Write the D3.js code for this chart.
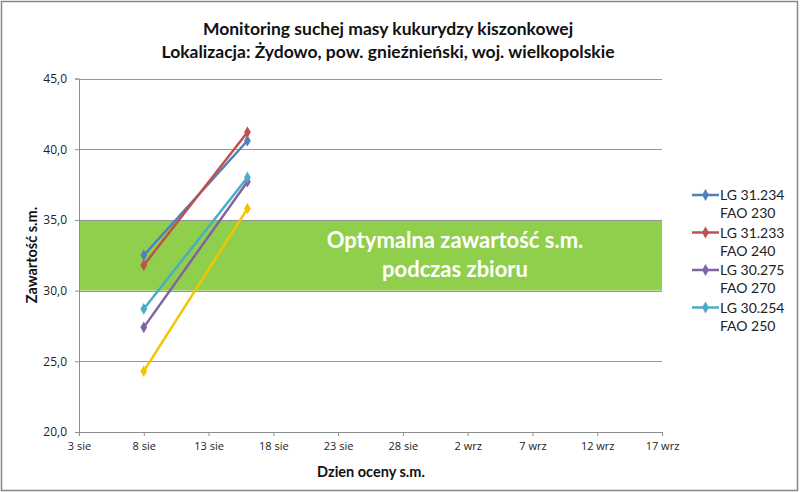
<!DOCTYPE html>
<html>
<head>
<meta charset="utf-8">
<script src="https://cdn.jsdelivr.net/npm/d3@7"></script>
<style>
  body { margin: 0; background: #fff; }
  text { font-family: Lato, "Open Sans", sans-serif; }
</style>
</head>
<body>
<script>
// data
const dates = ["2013-08-08", "2013-08-16"];
const seriesNames = [
  ["LG 31.234", "FAO 230"],
  ["LG 31.233", "FAO 240"],
  ["LG 30.275", "FAO 270"],
  ["LG 30.254", "FAO 250"],
  ["", ""]
];
const seriesColors = ["#4F81BD", "#C0504D", "#8064A2", "#4BACC6", "#F5C400"];
const lg31234 = [32.5, 40.6];
const lg31233 = [31.8, 41.2];
const lg30275 = [27.4, 37.7];
const lg30254 = [28.7, 38.0];
const yellow = [24.3, 35.8];
const allValues = [lg31234, lg31233, lg30275, lg30254, yellow];
const xTicks = ["2013-08-03", "2013-08-08", "2013-08-13", "2013-08-18", "2013-08-23",
                "2013-08-28", "2013-09-02", "2013-09-07", "2013-09-12", "2013-09-17"];
const yTicks = [20, 25, 30, 35, 40, 45];
const optimumBand = [30, 35];
const monthNames = ["sty", "lut", "mar", "kwi", "maj", "cze", "lip", "sie", "wrz", "paź", "lis", "gru"];

const parse = d3.timeParse("%Y-%m-%d");

const width = 800, height = 492;
const svg = d3.select("body").append("svg")
  .attr("width", width)
  .attr("height", height);

// outer border
svg.append("rect")
  .attr("x", 1.5).attr("y", 1.5)
  .attr("width", width - 4).attr("height", height - 3)
  .attr("fill", "#fff")
  .attr("stroke", "#868686")
  .attr("stroke-width", 1.5);

const x = d3.scaleTime()
  .domain([parse(xTicks[0]), parse(xTicks[xTicks.length - 1])])
  .range([79, 662]);
const y = d3.scaleLinear()
  .domain([20, 45])
  .range([432, 78.5]);

// green band
svg.append("rect")
  .attr("x", x.range()[0])
  .attr("y", y(optimumBand[1]))
  .attr("width", x.range()[1] - x.range()[0])
  .attr("height", y(optimumBand[0]) - y(optimumBand[1]))
  .attr("fill", "#8FCF4C");

// gridlines
svg.append("g")
  .selectAll("line")
  .data(yTicks.slice(1))
  .join("line")
  .attr("x1", x.range()[0])
  .attr("x2", x.range()[1])
  .attr("y1", d => Math.round(y(d)) + 0.5)
  .attr("y2", d => Math.round(y(d)) + 0.5)
  .attr("stroke", "#959595")
  .attr("stroke-width", 1);

// band label
const band = svg.append("text")
  .attr("fill", "#fff")
  .attr("text-anchor", "middle")
  .style("font-size", "22px")
  .style("font-weight", "bold");
band.append("tspan").attr("x", 455).attr("y", 248).text("Optymalna zawartość s.m.");
band.append("tspan").attr("x", 455).attr("y", 277).text("podczas zbioru");

// y axis
const yAxis = svg.append("g")
  .attr("transform", "translate(79,0)")
  .call(d3.axisLeft(y).tickValues(yTicks).tickSize(4).tickPadding(8)
    .tickFormat(d => d3.format(".1f")(d).replace(".", ",")));
yAxis.select(".domain").attr("stroke", "#8c8c8c");
yAxis.selectAll(".tick line").attr("stroke", "#8c8c8c");
yAxis.selectAll(".tick text")
  .attr("fill", "#222")
  .style("font-size", "12px")
  .style("font-family", "'Open Sans', sans-serif");

// x axis
const xAxis = svg.append("g")
  .attr("transform", "translate(0,432)")
  .call(d3.axisBottom(x).tickValues(xTicks.map(parse)).tickSize(4).tickPadding(6)
    .tickFormat(d => d.getDate() + " " + monthNames[d.getMonth()]));
xAxis.select(".domain").attr("stroke", "#8c8c8c");
xAxis.selectAll(".tick line").attr("stroke", "#8c8c8c");
xAxis.selectAll(".tick text")
  .attr("fill", "#222")
  .style("font-size", "11px")
  .style("font-family", "'Open Sans', sans-serif");

// lines
const line = d3.line()
  .x((d, i) => x(parse(dates[i])))
  .y(d => y(d));
const diamond = d3.symbol().type(d3.symbolDiamond).size(40);

allValues.forEach((vals, s) => {
  svg.append("path")
    .datum(vals)
    .attr("d", line)
    .attr("fill", "none")
    .attr("stroke", seriesColors[s])
    .attr("stroke-width", 2.5);
  svg.append("g")
    .selectAll("path")
    .data(vals)
    .join("path")
    .attr("transform", (d, i) => `translate(${x(parse(dates[i]))},${y(d)})`)
    .attr("d", diamond)
    .attr("fill", seriesColors[s]);
});

// titles
const title = svg.append("text")
  .attr("text-anchor", "middle")
  .attr("fill", "#111")
  .style("font-size", "17.5px")
  .style("font-weight", "bold");
title.append("tspan").attr("x", 388).attr("y", 35).text("Monitoring suchej masy kukurydzy kiszonkowej");
title.append("tspan").attr("x", 388).attr("y", 58).text("Lokalizacja: Żydowo, pow. gnieźnieński, woj. wielkopolskie");

svg.append("text")
  .attr("transform", "translate(37,255) rotate(-90)")
  .attr("text-anchor", "middle")
  .attr("fill", "#111")
  .style("font-size", "14.5px")
  .style("font-weight", "bold")
  .text("Zawartość s.m.");

svg.append("text")
  .attr("x", 371)
  .attr("y", 477)
  .attr("text-anchor", "middle")
  .attr("fill", "#111")
  .style("font-size", "14.5px")
  .style("font-weight", "bold")
  .text("Dzien oceny s.m.");

// legend (four named series)
const legend = svg.append("g")
  .selectAll("g")
  .data(seriesNames.slice(0, 4))
  .join("g")
  .attr("transform", (d, i) => `translate(692,${195 + i * 37.5})`);
legend.append("line")
  .attr("x1", 0).attr("x2", 27)
  .attr("y1", 0).attr("y2", 0)
  .attr("stroke", (d, i) => seriesColors[i])
  .attr("stroke-width", 2.5);
legend.append("path")
  .attr("transform", "translate(13.5,0)")
  .attr("d", diamond)
  .attr("fill", (d, i) => seriesColors[i]);
const lt = legend.append("text")
  .attr("fill", "#222")
  .style("font-size", "14px");
lt.append("tspan").attr("x", 28).attr("y", 5).text(d => d[0]);
lt.append("tspan").attr("x", 28).attr("y", 23).text(d => d[1]);
</script>
</body>
</html>
